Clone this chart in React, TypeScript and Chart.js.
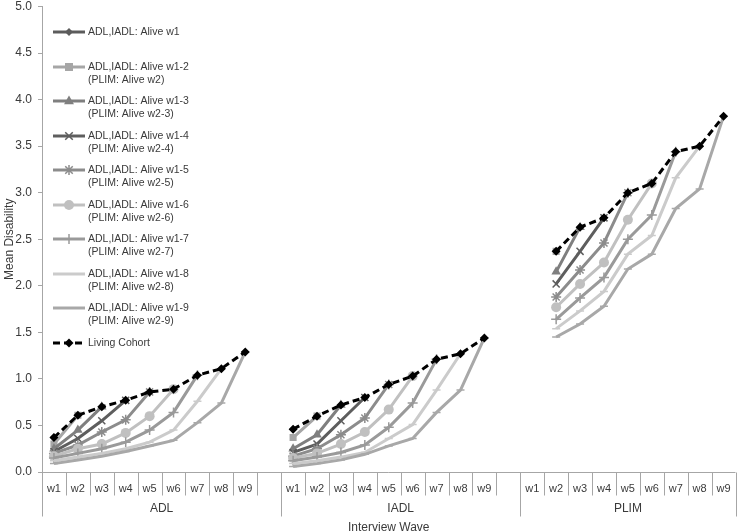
import React, { useEffect, useRef } from 'react';
import { Chart, registerables } from 'chart.js';

Chart.register(...registerables);

const WAVES = ['w1', 'w2', 'w3', 'w4', 'w5', 'w6', 'w7', 'w8', 'w9'];
const GROUPS = ['ADL', 'IADL', 'PLIM'];
const Y_TICKS = [0, 0.5, 1, 1.5, 2, 2.5, 3, 3.5, 4, 4.5, 5];

// Values per series: [ADL, IADL, PLIM] by wave w1..w9
const S1_ADL = [0.37];
const S1_IADL = [0.46];
const S1_PLIM: (number | null)[] = [];

const S2_ADL = [0.30, 0.61];
const S2_IADL = [0.37, 0.60];
const S2_PLIM = [null, 2.37];

const S3_ADL = [0.25, 0.45, 0.70];
const S3_IADL = [0.25, 0.40, 0.72];
const S3_PLIM = [null, 2.15, 2.63];

const S4_ADL = [0.22, 0.36, 0.55, 0.77];
const S4_IADL = [0.21, 0.30, 0.55, 0.80];
const S4_PLIM = [null, 2.02, 2.37, 2.73];

const S5_ADL = [0.20, 0.29, 0.43, 0.56, 0.86];
const S5_IADL = [0.17, 0.25, 0.40, 0.58, 0.94];
const S5_PLIM = [null, 1.88, 2.17, 2.46, 3.00];

const S6_ADL = [0.17, 0.25, 0.30, 0.42, 0.60, 0.89];
const S6_IADL = [0.15, 0.20, 0.30, 0.43, 0.67, 1.03];
const S6_PLIM = [null, 1.77, 2.02, 2.25, 2.71, 3.10];

const S7_ADL = [0.15, 0.20, 0.25, 0.32, 0.45, 0.64, 1.04];
const S7_IADL = [0.12, 0.16, 0.21, 0.29, 0.48, 0.74, 1.21];
const S7_PLIM = [null, 1.64, 1.87, 2.09, 2.50, 2.76, 3.44];

const S8_ADL = [0.12, 0.16, 0.20, 0.25, 0.32, 0.45, 0.76, 1.11];
const S8_IADL = [0.09, 0.12, 0.16, 0.21, 0.36, 0.51, 0.88, 1.27];
const S8_PLIM = [null, 1.54, 1.73, 1.94, 2.34, 2.54, 3.16, 3.50];

const S9_ADL = [0.09, 0.13, 0.17, 0.22, 0.28, 0.34, 0.53, 0.74, 1.29];
const S9_IADL = [0.06, 0.09, 0.13, 0.19, 0.28, 0.36, 0.64, 0.88, 1.44];
const S9_PLIM = [null, 1.45, 1.59, 1.78, 2.18, 2.34, 2.83, 3.04, 3.82];

const LC_ADL = [0.37, 0.61, 0.70, 0.77, 0.86, 0.89, 1.04, 1.11, 1.29];
const LC_IADL = [0.46, 0.60, 0.72, 0.80, 0.94, 1.03, 1.21, 1.27, 1.44];
const LC_PLIM = [null, 2.37, 2.63, 2.73, 3.00, 3.10, 3.44, 3.50, 3.82];

const SERIES_LABELS = [
  ['ADL,IADL: Alive w1'],
  ['ADL,IADL: Alive w1-2', '(PLIM: Alive w2)'],
  ['ADL,IADL: Alive w1-3', '(PLIM: Alive w2-3)'],
  ['ADL,IADL: Alive w1-4', '(PLIM: Alive w2-4)'],
  ['ADL,IADL: Alive w1-5', '(PLIM: Alive w2-5)'],
  ['ADL,IADL: Alive w1-6', '(PLIM: Alive w2-6)'],
  ['ADL,IADL: Alive w1-7', '(PLIM: Alive w2-7)'],
  ['ADL,IADL: Alive w1-8', '(PLIM: Alive w2-8)'],
  ['ADL,IADL: Alive w1-9', '(PLIM: Alive w2-9)'],
  ['Living Cohort'],
];

const SERIES_VALUES = [
  [S1_ADL, S1_IADL, S1_PLIM],
  [S2_ADL, S2_IADL, S2_PLIM],
  [S3_ADL, S3_IADL, S3_PLIM],
  [S4_ADL, S4_IADL, S4_PLIM],
  [S5_ADL, S5_IADL, S5_PLIM],
  [S6_ADL, S6_IADL, S6_PLIM],
  [S7_ADL, S7_IADL, S7_PLIM],
  [S8_ADL, S8_IADL, S8_PLIM],
  [S9_ADL, S9_IADL, S9_PLIM],
  [LC_ADL, LC_IADL, LC_PLIM],
];

// Styles
const COLORS = ['#5c5c5c', '#a6a6a6', '#7f7f7f', '#5e5e5e', '#8c8c8c', '#c0c0c0', '#9a9a9a', '#cbcbcb', '#a8a8a8', '#000000'];
const MARKERS = ['rectRot', 'rect', 'triangle', 'crossRot', 'star', 'circle', 'cross', 'line', 'line', 'rectRot'];
const RADII = [4, 5, 5.5, 5, 5, 5, 5, 4, 4, 4.5];

const LABELS: string[] = [...WAVES, '', ...WAVES, '', ...WAVES];

function pad9(a: (number | null)[]) {
  const out: (number | null)[] = [];
  for (let i = 0; i < 9; i++) out.push(i < a.length ? a[i] : null);
  return out;
}
function buildRow(parts: (number | null)[][]) {
  return [...pad9(parts[0]), null, ...pad9(parts[1]), null, ...pad9(parts[2])];
}

const FONT = '"Liberation Sans", Arial, sans-serif';
const TEXT = '#3a3a3a';
const AXIS = '#a6a6a6';

function drawMarker(ctx: CanvasRenderingContext2D, style: string, x: number, y: number, r: number, color: string) {
  ctx.save();
  ctx.fillStyle = color;
  ctx.strokeStyle = color;
  ctx.lineWidth = 1.5;
  ctx.setLineDash([]);
  ctx.beginPath();
  if (style === 'rectRot') {
    ctx.moveTo(x, y - r); ctx.lineTo(x + r, y); ctx.lineTo(x, y + r); ctx.lineTo(x - r, y); ctx.closePath(); ctx.fill();
  } else if (style === 'rect') {
    const s = r * 0.8;
    ctx.rect(x - s, y - s, 2 * s, 2 * s); ctx.fill();
  } else if (style === 'triangle') {
    ctx.moveTo(x, y - r); ctx.lineTo(x + r * 0.9, y + r * 0.6); ctx.lineTo(x - r * 0.9, y + r * 0.6); ctx.closePath(); ctx.fill();
  } else if (style === 'crossRot') {
    const s = r * 0.75;
    ctx.moveTo(x - s, y - s); ctx.lineTo(x + s, y + s); ctx.moveTo(x + s, y - s); ctx.lineTo(x - s, y + s); ctx.stroke();
  } else if (style === 'star') {
    const s = r * 0.75;
    ctx.moveTo(x - s, y - s); ctx.lineTo(x + s, y + s); ctx.moveTo(x + s, y - s); ctx.lineTo(x - s, y + s);
    ctx.moveTo(x, y - r); ctx.lineTo(x, y + r); ctx.stroke();
  } else if (style === 'circle') {
    ctx.arc(x, y, r, 0, Math.PI * 2); ctx.fill();
  } else if (style === 'cross') {
    ctx.moveTo(x, y - r); ctx.lineTo(x, y + r); ctx.moveTo(x - r, y); ctx.lineTo(x + r, y); ctx.stroke();
  } else if (style === 'line') {
    ctx.lineWidth = 2;
    ctx.moveTo(x - r, y); ctx.lineTo(x + r, y); ctx.stroke();
  }
  ctx.restore();
}

const customPlugin = {
  id: 'customDecor',
  afterDraw(chart: any) {
    const ctx: CanvasRenderingContext2D = chart.ctx;
    const xs = chart.scales.x;
    const area = chart.chartArea;
    const bottom = Math.round(area.bottom) + 0.5;
    ctx.save();
    // x axis line
    ctx.strokeStyle = AXIS;
    ctx.lineWidth = 1;
    ctx.beginPath();
    ctx.moveTo(area.left, bottom);
    ctx.lineTo(area.right, bottom);
    ctx.stroke();
    const n = LABELS.length;
    const centers: number[] = [];
    for (let i = 0; i < n; i++) centers.push(xs.getPixelForValue(i));
    const half = (centers[1] - centers[0]) / 2;
    // separators
    for (let i = 0; i <= n; i++) {
      const bx = Math.round(i === 0 ? centers[0] - half : i === n ? centers[n - 1] + half : (centers[i - 1] + centers[i]) / 2) + 0.5;
      const isGroup = i === 0 || i === n || LABELS[i - 1] === '';
      ctx.beginPath();
      ctx.moveTo(bx, bottom);
      ctx.lineTo(bx, bottom + (isGroup ? 44 : 23));
      ctx.stroke();
    }
    // wave labels
    ctx.fillStyle = TEXT;
    ctx.font = `11px ${FONT}`;
    ctx.textAlign = 'center';
    ctx.textBaseline = 'middle';
    for (let i = 0; i < n; i++) {
      if (LABELS[i]) ctx.fillText(LABELS[i], centers[i], bottom + 16);
    }
    // group labels
    ctx.font = `12px ${FONT}`;
    for (let g = 0; g < GROUPS.length; g++) {
      const start = g * 10;
      const end = Math.min(start + 9, n - 1);
      const l = centers[start] - half;
      const r = centers[end] + half;
      ctx.fillText(GROUPS[g], (l + r) / 2, bottom + 36);
    }
    ctx.fillText('Interview Wave', (area.left + area.right) / 2, bottom + 55);

    // legend
    const lx0 = 53, lx1 = 85, tx = 88;
    const ys = [32, 67, 101, 136, 170, 205, 239, 274, 308, 343];
    ctx.textAlign = 'left';
    ctx.font = `10.5px ${FONT}`;
    for (let k = 0; k < SERIES_LABELS.length; k++) {
      const y = ys[k];
      ctx.save();
      ctx.strokeStyle = COLORS[k];
      ctx.lineWidth = 3;
      if (k === 9) ctx.setLineDash([7, 4]);
      ctx.beginPath();
      ctx.moveTo(lx0, y);
      ctx.lineTo(lx1, y);
      ctx.stroke();
      ctx.restore();
      drawMarker(ctx, MARKERS[k], (lx0 + lx1) / 2, y, RADII[k], COLORS[k]);
      ctx.fillStyle = TEXT;
      SERIES_LABELS[k].forEach((t, j) => ctx.fillText(t, tx, y + j * 13.5));
    }
    ctx.restore();
  },
};

export default function App() {
  const ref = useRef<HTMLCanvasElement>(null);
  useEffect(() => {
    if (!ref.current) return;
    const datasets = SERIES_VALUES.map((parts, k) => ({
      label: SERIES_LABELS[k].join(' '),
      data: buildRow(parts),
      borderColor: COLORS[k],
      backgroundColor: COLORS[k],
      borderWidth: 3,
      borderDash: k === 9 ? [7, 4] : [],
      pointStyle: MARKERS[k],
      pointRadius: RADII[k],
      pointBorderWidth: ['crossRot', 'star', 'cross', 'line'].includes(MARKERS[k]) ? 1.5 : 0,
      pointBorderColor: COLORS[k],
      pointBackgroundColor: COLORS[k],
      spanGaps: false,
      tension: 0,
      order: k === 9 ? -1 : 10 - k,
    }));
    const chart = new Chart(ref.current, {
      type: 'line',
      data: { labels: LABELS, datasets },
      options: {
        animation: false,
        responsive: false,
        maintainAspectRatio: false,
        layout: { padding: { left: 0, right: 2, top: 0, bottom: 60 } },
        plugins: {
          legend: { display: false },
          tooltip: { enabled: false },
        },
        scales: {
          x: {
            type: 'category',
            display: false,
            offset: true,
          },
          y: {
            min: 0,
            max: 5,
            afterFit: (s: any) => { s.width = 42; s.paddingTop = 6; s.paddingBottom = 0; },
            afterBuildTicks: (s: any) => { s.ticks = Y_TICKS.map((v) => ({ value: v })); },
            ticks: {
              color: TEXT,
              font: { family: FONT, size: 12 },
              padding: 6,
              callback: (v: any) => Number(v).toFixed(1),
            },
            grid: { drawOnChartArea: false, drawTicks: true, tickLength: 4, color: AXIS },
            border: { display: true, color: AXIS },
            title: {
              display: true,
              text: 'Mean Disability',
              color: TEXT,
              font: { family: FONT, size: 12 },
              padding: { top: 2, bottom: 2 },
            },
          },
        },
      },
      plugins: [customPlugin],
    });
    return () => chart.destroy();
  }, []);
  return (
    <div style={{ position: 'fixed', left: 0, top: 0, width: 742, height: 532, background: '#fff' }}>
      <canvas ref={ref} width={742} height={532} style={{ width: 742, height: 532 }} />
    </div>
  );
}
